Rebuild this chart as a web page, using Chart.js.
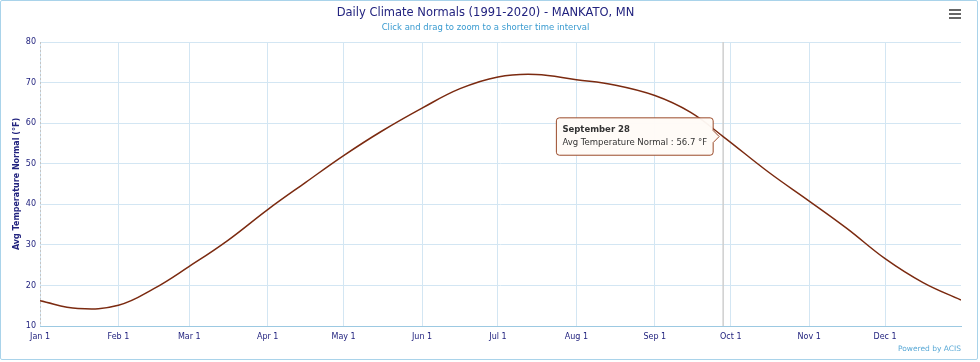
<!DOCTYPE html>
<html>
<head>
<meta charset="utf-8">
<script src="https://cdn.jsdelivr.net/npm/chart.js@4/dist/chart.umd.min.js"></script>
<style>
  html, body { margin: 0; padding: 0; background: #fff; }
  #wrap { position: relative; width: 980px; height: 362px; }
  #frame { position: absolute; left: 0; top: 0; width: 976px; height: 358px; border: 1px solid #a9d3ea; border-radius: 2px; pointer-events: none; }
  #menu { position: absolute; left: 949px; top: 9px; width: 12px; }
  #menu div { height: 2px; background: #666; margin-bottom: 2px; }
  #credit { position: absolute; right: 19px; top: 344px; font: 7.5px "DejaVu Sans", sans-serif; color: #5aa9d6; }
</style>
</head>
<body>
<div id="wrap">
  <canvas id="normalsChart" width="980" height="362"></canvas>
  <div id="frame"></div>
  <div id="menu"><div></div><div></div><div></div></div>
  <div id="credit">Powered by ACIS</div>
</div>
<script>
// day of year (0 = Jan 1) and normal average temperature (°F)
const dayOfYear = [0, 15, 31, 45, 59, 74, 90, 105, 120, 135, 151, 166, 181, 196, 212, 227, 243, 257, 270, 288, 304, 319, 334, 349, 364];
const avgTemp = [16.2, 14.3, 15.1, 19.2, 24.7, 31.0, 38.7, 45.4, 52.0, 58.0, 63.7, 68.5, 71.4, 72.0, 70.7, 69.4, 66.8, 62.7, 56.7, 47.9, 40.8, 34.0, 26.6, 20.7, 16.4];

const monthStarts = [0, 31, 59, 90, 120, 151, 181, 212, 243, 273, 304, 334];
const monthTickLabels = ["Jan 1", "Feb 1", "Mar 1", "Apr 1", "May 1", "Jun 1", "Jul 1", "Aug 1", "Sep 1", "Oct 1", "Nov 1", "Dec 1"];
const monthNames = ["January", "February", "March", "April", "May", "June", "July", "August", "September", "October", "November", "December"];

const hoverIndex = 18; // September 28

const navy = "#22237f";
const gridBlue = "#d3e6f3";
const baseFont = "'DejaVu Sans', 'Liberation Sans', sans-serif";

function dayName(d) {
  const dt = new Date(2021, 0, 1 + d);
  return monthNames[dt.getMonth()] + " " + dt.getDate();
}

// dotted left edge + light grey crosshair at the hovered day
const crosshair = {
  id: "crosshair",
  beforeDatasetsDraw(chart) {
    const { ctx, chartArea, scales } = chart;
    ctx.save();
    ctx.strokeStyle = "#c4c4c4";
    ctx.lineWidth = 1;
    ctx.setLineDash([2, 2]);
    ctx.beginPath();
    ctx.moveTo(chartArea.left + 0.5, chartArea.top);
    ctx.lineTo(chartArea.left + 0.5, chartArea.bottom);
    ctx.stroke();
    ctx.setLineDash([]);
    const x = scales.x.getPixelForValue(dayOfYear[hoverIndex]);
    ctx.strokeStyle = "#cfcfcf";
    ctx.lineWidth = 1.5;
    ctx.beginPath();
    ctx.moveTo(x, chartArea.top);
    ctx.lineTo(x, chartArea.bottom);
    ctx.stroke();
    ctx.restore();
  }
};

const chart = new Chart(document.getElementById("normalsChart"), {
  type: "line",
  data: {
    datasets: [{
      label: "Avg Temperature Normal",
      data: dayOfYear.map((d, i) => ({ x: d, y: avgTemp[i] })),
      borderColor: "#7b2a10",
      borderWidth: 1.5,
      pointRadius: 0,
      pointHoverRadius: 0,
      tension: 0.4,
      fill: false
    }]
  },
  options: {
    responsive: false,
    animation: false,
    events: [],
    layout: { padding: { left: 10, right: 19, top: 0, bottom: 0 } },
    plugins: {
      legend: { display: false },
      title: {
        display: true,
        text: "Daily Climate Normals (1991-2020) - MANKATO, MN",
        color: navy,
        font: { family: baseFont, size: 11.5, weight: "normal" },
        padding: { top: 6, bottom: 0 }
      },
      subtitle: {
        display: true,
        text: "Click and drag to zoom to a shorter time interval",
        color: "#3a9bd0",
        font: { family: baseFont, size: 8.5 },
        padding: { top: 3, bottom: 9 }
      },
      tooltip: {
        enabled: true,
        xAlign: "right",
        yAlign: "center",
        backgroundColor: "rgba(255, 251, 247, 0.96)",
        borderColor: "#9a4a2a",
        borderWidth: 1,
        cornerRadius: 3,
        caretSize: 6,
        caretPadding: 4,
        padding: { top: 7, bottom: 7, left: 6, right: 6 },
        displayColors: false,
        titleColor: "#333",
        bodyColor: "#333",
        titleFont: { family: baseFont, size: 8.5, weight: "bold" },
        bodyFont: { family: baseFont, size: 8.5 },
        titleMarginBottom: 3,
        callbacks: {
          title: (items) => dayName(items[0].parsed.x),
          label: (item) => "Avg Temperature Normal : " + item.parsed.y.toFixed(1) + " °F"
        }
      }
    },
    scales: {
      x: {
        type: "linear",
        min: 0,
        max: 364,
        afterBuildTicks: (scale) => { scale.ticks = monthStarts.map(v => ({ value: v })); },
        afterFit: (scale) => { scale.height = 36; },
        grid: { color: gridBlue, drawTicks: false },
        border: { color: "#9cc9e2", width: 1 },
        ticks: {
          color: navy,
          padding: 6,
          maxRotation: 0,
          autoSkip: false,
          font: { family: baseFont, size: 8 },
          callback: (v) => monthTickLabels[monthStarts.indexOf(v)]
        }
      },
      y: {
        min: 10,
        max: 80,
        afterFit: (scale) => { scale.width = 30; },
        grid: { color: gridBlue, drawTicks: false },
        border: { display: false },
        ticks: {
          stepSize: 10,
          color: navy,
          padding: 4,
          font: { family: baseFont, size: 8 }
        },
        title: {
          display: true,
          text: "Avg Temperature Normal (°F)",
          color: navy,
          font: { family: baseFont, size: 8, weight: "bold" },
          padding: { top: 2, bottom: 0 }
        }
      }
    }
  },
  plugins: [crosshair]
});

chart.tooltip.setActiveElements([{ datasetIndex: 0, index: hoverIndex }], { x: 0, y: 0 });
chart.update();
</script>
</body>
</html>
